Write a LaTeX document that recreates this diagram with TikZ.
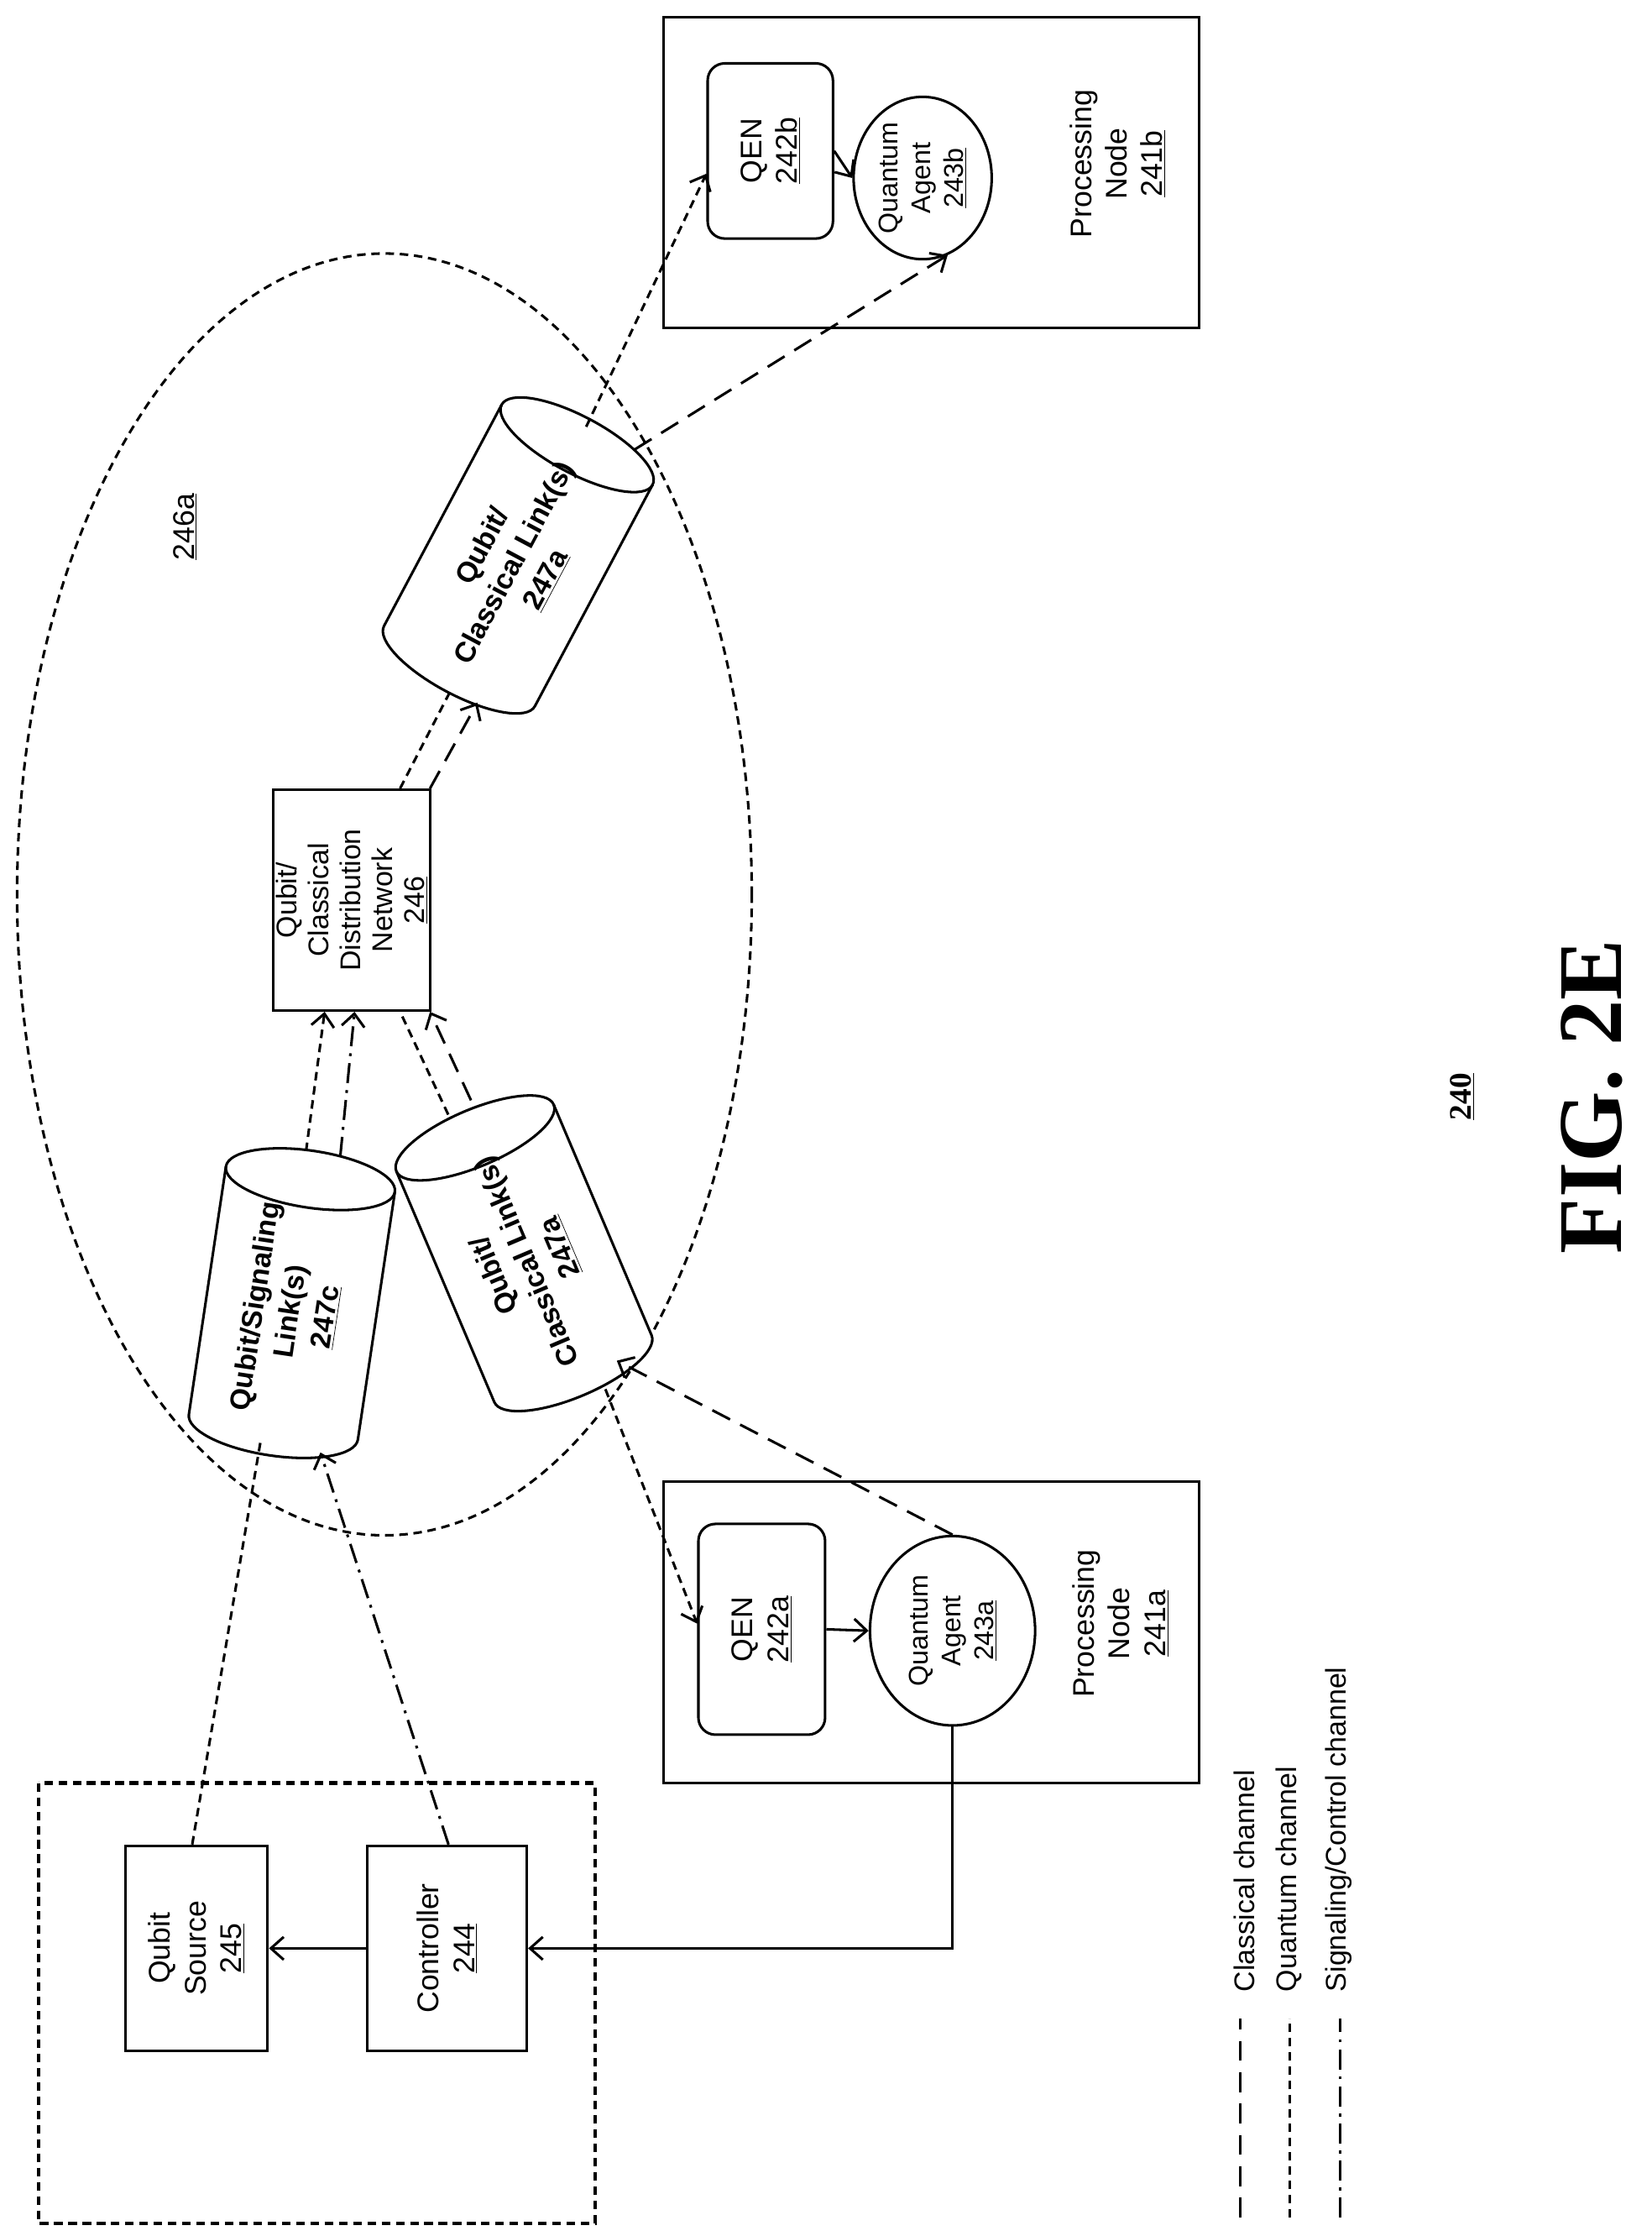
\documentclass[tikz,border=0pt]{standalone}
\usepackage{fontspec}
\setmainfont{Liberation Sans}
\newfontfamily\figfont{Liberation Serif}
\usetikzlibrary{shapes.geometric,arrows.meta}
\tikzset{>={Straight Barb[length=9pt,width=16pt]}}
\tikzset{
  classical/.style={line width=1.8pt,dash pattern=on 14pt off 8pt},
  quantum/.style={line width=1.8pt,dash pattern=on 6pt off 4pt},
  signal/.style={line width=1.8pt,dash pattern=on 14pt off 5pt on 2pt off 5pt},
  box/.style={draw,line width=1.8pt,rotate=90,align=center,inner sep=2pt,
    font=\fontsize{21}{25}\selectfont},
  lbl/.style={rotate=90,align=center,font=\fontsize{21}{25}\selectfont},
  linktext/.style={align=center,font=\bfseries\fontsize{20}{25}\selectfont}
}
% cylinder link: name, centre, angle, text
\def\linkcyl#1#2#3#4{%
  \begin{scope}[shift={(#2)},rotate=#3]
    \draw[line width=1.8pt,fill=white] (88,-60) -- (-88,-60)
      arc[start angle=270,end angle=90,x radius=20,y radius=60] -- (88,60);
    \draw[line width=1.8pt] (88,0) ellipse [x radius=20,y radius=60];
    \coordinate (#1-top) at (108,0);
    \coordinate (#1-bottom) at (-108,0);
    \node[linktext,rotate=#3] (#1) at (-6,0) {#4};
  \end{scope}}

\begin{document}
\begin{tikzpicture}[x=1pt,y=-1pt]
  \useasboundingbox (0,0) rectangle (1160,1570);

  % processing nodes
  \node[box,minimum width=218pt,minimum height=376pt] (nodeb) at (654,121) {};
  \node[box,rounded corners=12pt,minimum width=123pt,minimum height=88pt] (qenb) at (541,106) {QEN\\\underline{242b}};
  \node[box,ellipse,inner sep=0pt,minimum width=114pt,minimum height=97pt,font=\fontsize{19}{23}\selectfont] (agentb) at (648,125) {Quantum\\Agent\\\underline{243b}};
  \node[lbl] (procb) at (785,115) {Processing\\Node\\\underline{241b}};

  \node[box,minimum width=212pt,minimum height=376pt] (nodea) at (654,1146) {};
  \node[box,rounded corners=12pt,minimum width=148pt,minimum height=89pt] (qena) at (535,1144) {QEN\\\underline{242a}};
  \node[box,ellipse,inner sep=0pt,minimum width=133pt,minimum height=116pt,font=\fontsize{19}{23}\selectfont] (agenta) at (669,1145) {Quantum\\Agent\\\underline{243a}};
  \node[lbl] (proca) at (787,1140) {Processing\\Node\\\underline{241a}};

  % distribution network
  \draw[quantum] (270,628) ellipse [x radius=258,y radius=450];
  \node[lbl] (cloud) at (130,370) {\underline{246a}};
  \node[box,inner sep=0pt,minimum width=155pt,minimum height=110pt,font=\fontsize{20}{22.5}\selectfont] (net) at (247,632) {Qubit/\\Classical\\Distribution\\Network\\\underline{246}};

  \linkcyl{linkt}{364,390}{62}{Qubit/\\Classical Link(s)\\\underline{247a}}
  \linkcyl{linkc}{205,915}{81.5}{Qubit/Signaling\\Link(s)\\\underline{247c}}
  \linkcyl{linkl}{368,880}{113}{Qubit/\\Classical Link(s)\\\underline{247a}}

  % source side
  \draw[quantum,line width=2.6pt] (27,1252) rectangle (418,1561);
  \node[box,minimum width=144pt,minimum height=100pt] (src) at (138,1368) {Qubit\\Source\\\underline{245}};
  \node[box,minimum width=144pt,minimum height=112pt] (ctrl) at (314,1368) {Controller\\\underline{244}};

  % solid links
  \draw[->,line width=1.8pt] (ctrl.north) -- (src.south);
  \draw[->,line width=1.8pt] (agenta.west) |- (ctrl.south);
  \draw[->,line width=1.8pt] (qena.south) -- (agenta.north);
  \draw[->,line width=1.8pt] (qenb.south) -- (agentb.north);

  % channels
  \draw[quantum] ([xshift=-3pt]src.east) -- ([shift={(-6,-10)}]linkc-bottom);
  \draw[signal,->] ([xshift=1pt]ctrl.east) -- ([shift={(36,-2)}]linkc-bottom);
  \draw[quantum,->] ([shift={(-6,0)}]linkc-top) -- ([xshift=-19pt]net.west);
  \draw[signal,->] ([shift={(18,4)}]linkc-top) -- ([xshift=2pt]net.west);
  \draw[quantum] ([shift={(-11,2)}]linkl-top) -- ([xshift=34pt]net.west);
  \draw[classical,->] ([shift={(5,-8)}]linkl-top) -- ([xshift=55pt]net.west);
  \draw[quantum] ([xshift=34pt]net.east) -- ([shift={(4,-2)}]linkt-bottom);
  \draw[classical,->] ([xshift=55pt]net.east) -- ([shift={(22,8)}]linkt-bottom);
  \draw[quantum,->] ([shift={(-3,5)}]linkt-top) -- ([yshift=-16pt]qenb.north);
  \draw[classical,->] ([shift={(31,21)}]linkt-top) -- (agentb.198);
  \draw[quantum,->] ([shift={(15,-4)}]linkl-bottom) -- ([yshift=4pt]qena.north);
  \draw[classical,->] (agenta.east) -- ([shift={(23,-24)}]linkl-bottom);

  % legend
  \draw[classical] (871,1557) -- (871,1417);
  \draw[quantum] (906,1557) -- (906,1417);
  \draw[signal] (941,1557) -- (941,1417);
  \node[lbl,anchor=south west,font=\fontsize{20}{24}\selectfont] (legc) at (885,1402) {Classical channel};
  \node[lbl,anchor=south west,font=\fontsize{20}{24}\selectfont] (legq) at (918,1402) {Quantum channel};
  \node[lbl,anchor=south west,font=\fontsize{20}{24}\selectfont] (legs) at (953,1402) {Signaling/Control channel};

  % figure caption
  \node[lbl,font=\figfont\bfseries\fontsize{22}{26}\selectfont] (num) at (1027,770) {\underline{240}};
  \node[lbl,font=\figfont\bfseries\fontsize{64}{70}\selectfont] (fig) at (1118,770) {FIG. 2E};
\end{tikzpicture}
\end{document}
